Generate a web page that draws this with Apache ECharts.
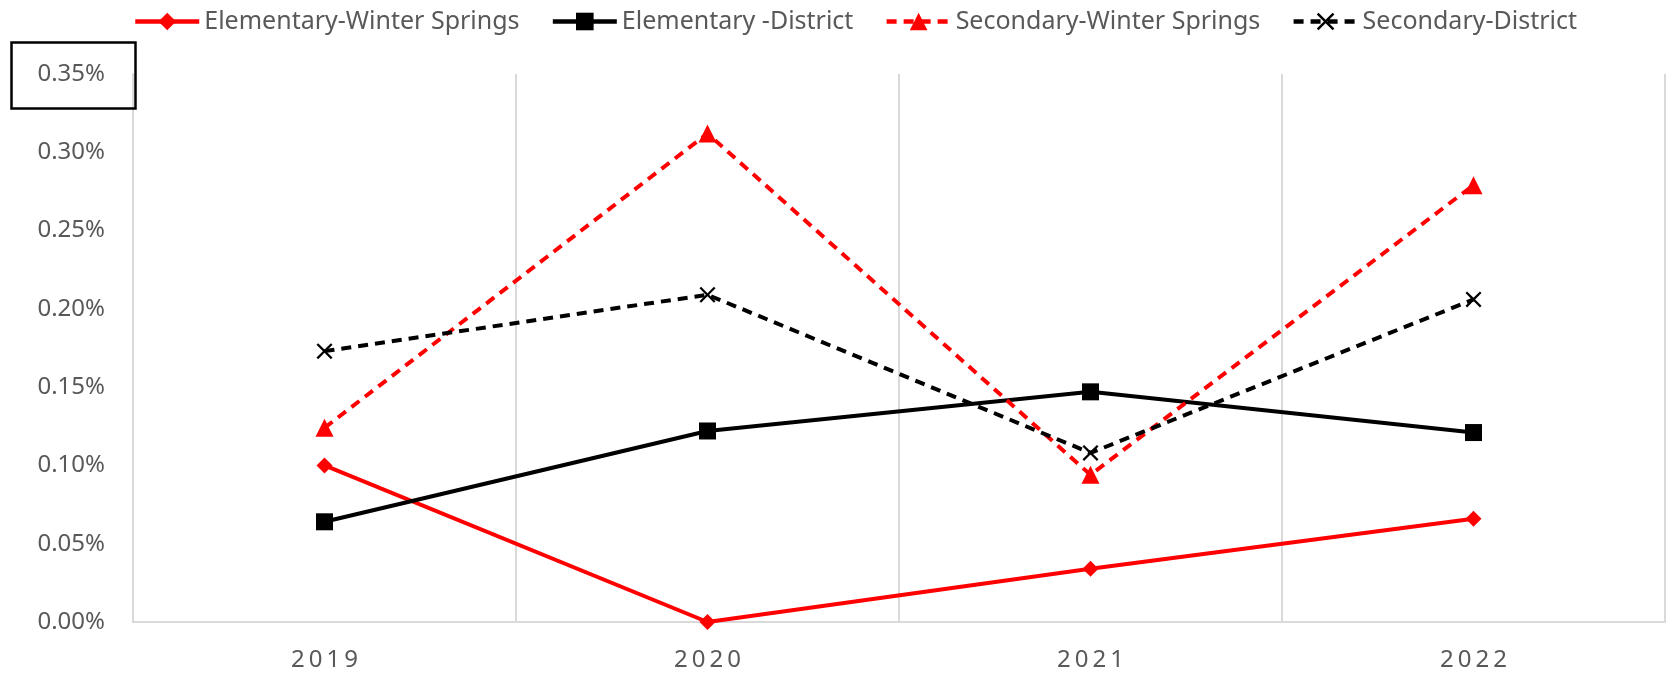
<!DOCTYPE html>
<html>
<head>
<meta charset="utf-8">
<script src="https://cdn.jsdelivr.net/npm/echarts@6/dist/echarts.min.js"></script>
<style>
  html, body { margin: 0; padding: 0; background: #fff; }
  #chart { width: 1668px; height: 677px; }
</style>
</head>
<body>
<div id="chart"></div>
<script>
// values are in percent
var years = ['2019', '2020', '2021', '2022'];
var elemWinterSprings = [0.100, 0.000, 0.034, 0.066];
var elemDistrict = [0.064, 0.122, 0.147, 0.121];
var secWinterSprings = [0.124, 0.312, 0.094, 0.279];
var secDistrict = [0.173, 0.209, 0.108, 0.206];

var crossPath = 'path://M0,1L1,0L5,4L9,0L10,1L6,5L10,9L9,10L5,6L1,10L0,9L4,5Z';
var font = 'Noto Sans';

var chart = echarts.init(document.getElementById('chart'));
chart.setOption({
    animation: false,
    textStyle: { fontFamily: font },
    legend: {
        top: 4,
        left: 128,
        itemWidth: 64,
        itemHeight: 22,
        itemGap: 31,
        lineStyle: { width: 4.5 },
        textStyle: { fontSize: 25, color: '#595959', fontFamily: font },
        data: ['Elementary-Winter Springs', 'Elementary -District', 'Secondary-Winter Springs', 'Secondary-District']
    },
    grid: {
        left: 133,
        right: 3,
        top: 74,
        bottom: 55
    },
    xAxis: {
        type: 'category',
        data: years,
        boundaryGap: true,
        axisLine: { lineStyle: { color: '#d9d9d9', width: 2 } },
        axisTick: { show: false },
        axisLabel: {
            margin: 26,
            fontSize: 24,
            color: '#595959',
            formatter: function (v) { return v.split('').join('\u2009'); }
        },
        splitLine: { show: true, lineStyle: { color: '#d9d9d9', width: 2 } }
    },
    yAxis: {
        type: 'value',
        min: 0,
        max: 0.35,
        interval: 0.05,
        axisLine: { show: true, lineStyle: { color: '#d9d9d9', width: 2 } },
        axisTick: { show: false },
        splitLine: { show: false },
        axisLabel: {
            margin: 28,
            fontSize: 24,
            color: '#595959',
            formatter: function (v) { return v.toFixed(2) + '%'; }
        }
    },
    graphic: [{
        type: 'rect',
        left: 9,
        top: 40,
        shape: { width: 124, height: 66 },
        style: { fill: 'none', stroke: '#000', lineWidth: 2.5 },
        z: 100
    }],
    series: [{
        name: 'Elementary-Winter Springs',
        type: 'line',
        data: elemWinterSprings,
        symbol: 'diamond',
        symbolSize: 16,
        itemStyle: { color: '#ff0000' },
        lineStyle: { color: '#ff0000', width: 4 }
    }, {
        name: 'Elementary -District',
        type: 'line',
        data: elemDistrict,
        symbol: 'rect',
        symbolSize: 17,
        itemStyle: { color: '#000000' },
        lineStyle: { color: '#000000', width: 4 }
    }, {
        name: 'Secondary-Winter Springs',
        type: 'line',
        data: secWinterSprings,
        symbol: 'triangle',
        symbolSize: 18,
        itemStyle: { color: '#ff0000' },
        lineStyle: { color: '#ff0000', width: 4, type: [10, 7] }
    }, {
        name: 'Secondary-District',
        type: 'line',
        data: secDistrict,
        symbol: crossPath,
        symbolSize: 16,
        itemStyle: { color: '#000000' },
        lineStyle: { color: '#000000', width: 4, type: [10, 7] }
    }]
});
</script>
</body>
</html>
